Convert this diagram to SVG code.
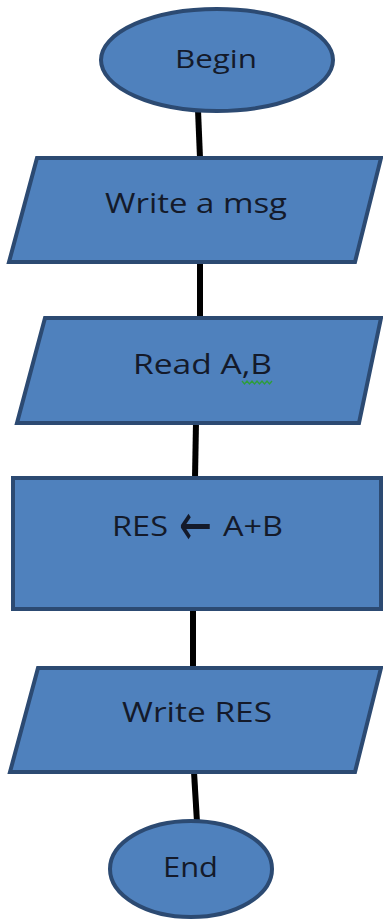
<svg xmlns="http://www.w3.org/2000/svg" width="383" height="921" viewBox="0 0 383 921">
  <style>
    .shape { fill: #4f81bd; stroke: #2c4a72; stroke-width: 4; stroke-linejoin: miter; }
    .label { font-family: "Open Sans", "Liberation Sans", Arial, sans-serif; font-size: 28px; fill: #141a2a; }
    .label.small { font-size: 25px; }
    .label.arrow { font-family: "DejaVu Sans", sans-serif; font-size: 34px; }
    .link { stroke: #000; stroke-width: 6; fill: none; }
  </style>
  <rect width="383" height="921" fill="#ffffff"/>

  <!-- flow lines -->
  <g id="connectors">
    <line class="link" x1="198" y1="110" x2="200" y2="158"/>
    <line class="link" x1="200" y1="262" x2="200" y2="318"/>
    <line class="link" x1="196" y1="422" x2="195" y2="478"/>
    <line class="link" x1="193" y1="609" x2="193" y2="668"/>
    <line class="link" x1="194" y1="772" x2="197" y2="822"/>
  </g>

  <g id="begin">
    <ellipse class="shape" cx="217" cy="60" rx="116" ry="51"/>
    <text class="label small" x="175" y="68" textLength="82" lengthAdjust="spacingAndGlyphs">Begin</text>
  </g>

  <g id="write-msg">
    <polygon class="shape" points="37,158 381,158 355,262 9,262"/>
    <text class="label" x="105" y="213" textLength="182" lengthAdjust="spacingAndGlyphs">Write a msg</text>
  </g>

  <g id="read-ab">
    <polygon class="shape" points="45,318 381,318 359,423 17,423"/>
    <text class="label" x="133" y="374" textLength="139" lengthAdjust="spacingAndGlyphs">Read A,B</text>
    <!-- spell-check squiggle -->
    <path d="M242,381 l2.5,3 l2.5,-3 l2.5,3 l2.5,-3 l2.5,3 l2.5,-3 l2.5,3 l2.5,-3 l2.5,3 l2.5,-3 l2.5,3 l2.5,-3" fill="none" stroke="#2e9e3a" stroke-width="1.3"/>
  </g>

  <g id="assign">
    <rect class="shape" x="13" y="478" width="368" height="131"/>
    <text class="label" x="112" y="536" textLength="56" lengthAdjust="spacingAndGlyphs">RES</text>
    <!-- assignment arrow, stretched taller -->
    <text class="label arrow" x="0" y="0" transform="translate(179,545) scale(1,1.75)" textLength="33" lengthAdjust="spacingAndGlyphs">←</text>
    <text class="label" x="223" y="536" textLength="60" lengthAdjust="spacingAndGlyphs">A+B</text>
  </g>

  <g id="write-res">
    <polygon class="shape" points="38,668 381,668 355,772 10,772"/>
    <text class="label" x="122" y="722" textLength="150" lengthAdjust="spacingAndGlyphs">Write RES</text>
  </g>

  <g id="end">
    <ellipse class="shape" cx="191" cy="869" rx="81" ry="48"/>
    <text class="label" x="163" y="877" textLength="55" lengthAdjust="spacingAndGlyphs">End</text>
  </g>
</svg>
